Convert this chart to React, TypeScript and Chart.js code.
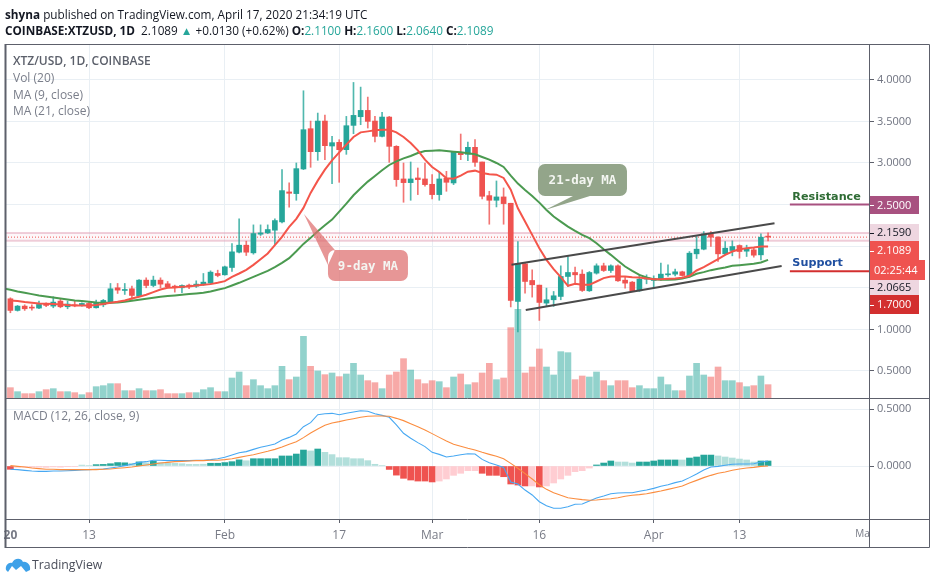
import React, { useEffect, useRef } from "react";
import { Chart, registerables } from "chart.js";

Chart.register(...registerables);

const openPrice = [
  1.368,1.228,1.28,1.268,1.256,1.304,1.28,1.34,1.272,1.296,
  1.296,1.312,1.26,1.296,1.328,1.50,1.468,1.488,1.40,1.592,
  1.528,1.592,1.548,1.52,1.50,1.528,1.52,1.536,1.556,1.672,
  1.656,1.744,1.928,2.012,1.92,2.144,2.16,2.192,2.292,2.652,
  2.632,2.928,3.412,3.136,3.504,3.204,3.248,3.16,3.452,3.556,
  3.632,3.504,3.32,3.552,3.20,2.808,2.764,2.82,2.808,2.744,
  2.62,2.816,2.76,3.128,3.104,3.188,3.012,2.608,2.552,2.592,
  2.516,1.336,1.788,1.588,1.532,1.316,1.356,1.396,1.636,1.684,
  1.664,1.464,1.676,1.764,1.708,1.764,1.592,1.568,1.464,1.604,
  1.588,1.604,1.656,1.664,1.692,1.644,1.908,1.964,2.148,2.108,
  1.908,1.948,2.008,1.94,1.956,1.896,2.11,
];
const highPrice = [
  1.38,1.288,1.296,1.296,1.34,1.32,1.392,1.368,1.34,1.34,
  1.32,1.328,1.352,1.36,1.552,1.552,1.552,1.52,1.60,1.62,
  1.64,1.62,1.576,1.532,1.536,1.544,1.584,1.672,1.704,1.712,
  1.76,2.032,2.328,2.06,2.256,2.256,2.256,2.328,2.92,2.76,
  3.0,3.868,3.504,3.60,3.576,3.32,3.28,3.56,3.968,3.912,
  3.792,3.56,3.608,3.56,3.208,3.0,3.012,2.94,3.0,2.86,
  2.888,2.90,3.128,3.348,3.252,3.28,3.012,2.66,2.784,2.70,
  2.516,2.056,1.796,1.716,1.532,1.496,1.456,1.764,1.876,1.748,
  1.716,1.696,1.788,1.796,1.776,1.776,1.628,1.576,1.656,1.656,
  1.644,1.796,1.776,1.724,1.70,1.936,2.116,2.176,2.176,2.116,
  2.056,2.064,2.016,2.012,1.976,2.148,2.16,
];
const lowPrice = [
  1.20,1.22,1.228,1.232,1.248,1.272,1.26,1.26,1.248,1.272,
  1.28,1.248,1.256,1.272,1.312,1.432,1.42,1.36,1.40,1.50,
  1.512,1.50,1.50,1.448,1.44,1.488,1.504,1.528,1.552,1.632,
  1.652,1.696,1.92,1.888,1.904,2.128,2.152,2.02,2.28,2.468,
  2.552,2.92,2.948,3.032,3.04,2.752,2.768,3.104,3.352,3.46,
  3.42,3.252,3.312,3.008,2.72,2.528,2.552,2.62,2.72,2.568,
  2.552,2.66,2.74,3.04,3.028,2.96,2.568,2.264,2.472,2.264,
  1.27,0.97,1.436,1.388,1.108,1.276,1.276,1.356,1.516,1.556,
  1.456,1.456,1.664,1.696,1.684,1.576,1.496,1.456,1.456,1.548,
  1.496,1.588,1.636,1.644,1.64,1.628,1.852,1.956,1.996,1.816,
  1.896,1.884,1.856,1.876,1.868,1.836,2.064,
];
const closePrice = [
  1.228,1.28,1.248,1.256,1.30,1.288,1.328,1.272,1.304,1.284,
  1.312,1.26,1.32,1.348,1.488,1.472,1.48,1.408,1.592,1.528,
  1.592,1.544,1.512,1.504,1.528,1.52,1.544,1.568,1.688,1.648,
  1.752,1.932,2.012,1.928,2.152,2.16,2.20,2.308,2.668,2.636,
  2.932,3.40,3.136,3.504,3.208,3.244,3.16,3.448,3.572,3.632,
  3.50,3.32,3.552,3.20,2.80,2.764,2.808,2.80,2.74,2.62,
  2.808,2.768,3.128,3.10,3.188,3.008,2.60,2.552,2.592,2.512,
  1.348,1.788,1.576,1.536,1.324,1.356,1.404,1.636,1.684,1.656,
  1.468,1.684,1.764,1.708,1.764,1.584,1.556,1.464,1.604,1.624,
  1.612,1.664,1.668,1.692,1.648,1.916,1.964,2.148,2.108,1.908,
  1.976,1.996,1.936,1.964,1.892,2.108,2.1089,
];
const volumeK = [
  31,19,13,13,19,25,28,19,19,16,
  10,16,34,37,43,43,22,22,28,22,
  22,25,13,13,13,16,16,25,31,19,
  19,60,78,37,55,37,28,37,95,55,
  63,185,95,81,70,75,64,72,104,69,
  52,46,28,69,78,118,84,55,43,52,
  49,31,63,72,40,46,75,104,55,60,
  211,266,75,93,147,93,69,139,136,55,
  66,63,78,52,37,52,52,31,37,28,
  28,63,40,22,22,66,104,69,63,93,
  52,52,46,34,37,66,40,
];
const ma9 = [
  1.348,1.34,1.328,1.32,1.312,1.308,1.304,1.30,1.292,1.288,
  1.288,1.288,1.292,1.304,1.32,1.332,1.348,1.372,1.392,1.416,
  1.448,1.48,1.50,1.504,1.512,1.516,1.528,1.536,1.544,1.56,
  1.58,1.632,1.672,1.716,1.776,1.844,1.912,2.012,2.112,2.232,
  2.328,2.46,2.64,2.788,2.92,3.032,3.128,3.22,3.312,3.368,
  3.38,3.392,3.40,3.40,3.368,3.312,3.24,3.152,3.04,2.952,
  2.892,2.816,2.812,2.848,2.896,2.908,2.88,2.864,2.86,2.82,
  2.68,2.456,2.296,2.136,1.976,1.836,1.724,1.628,1.524,1.548,
  1.536,1.536,1.576,1.616,1.636,1.636,1.636,1.628,1.624,1.612,
  1.604,1.604,1.608,1.612,1.62,1.644,1.708,1.748,1.796,1.844,
  1.896,1.936,1.964,1.976,1.984,1.996,1.996,
];
const ma21 = [
  1.476,1.456,1.44,1.424,1.408,1.396,1.384,1.372,1.36,1.348,
  1.34,1.332,1.324,1.32,1.32,1.324,1.332,1.344,1.356,1.368,
  1.38,1.392,1.40,1.408,1.416,1.424,1.432,1.44,1.456,1.476,
  1.496,1.528,1.56,1.596,1.632,1.668,1.704,1.748,1.80,1.856,
  1.94,2.028,2.10,2.18,2.252,2.32,2.416,2.512,2.612,2.696,
  2.776,2.844,2.912,2.976,3.02,3.056,3.084,3.12,3.144,3.148,
  3.152,3.144,3.136,3.128,3.116,3.104,3.072,3.04,3.0,2.952,
  2.848,2.752,2.676,2.604,2.524,2.436,2.356,2.296,2.236,2.184,
  2.136,2.096,2.036,1.964,1.896,1.824,1.756,1.704,1.656,1.624,
  1.604,1.596,1.596,1.60,1.612,1.632,1.668,1.688,1.712,1.728,
  1.744,1.764,1.772,1.78,1.788,1.804,1.836,
];
const macdHist = [
  -.029,-.012,-.01,-.012,-.01,-.012,-.008,-.01,-.006,-.004,
  .008,.004,.012,.014,.02,.03,.028,.024,.036,.028,
  .042,.03,.026,.024,.02,.014,.014,.016,.024,.024,
  .03,.038,.054,.046,.064,.064,.064,.064,.088,.088,
  .105,.14,.132,.149,.12,.10,.073,.073,.064,.064,
  .047,.015,.004,-.03,-.08,-.108,-.123,-.132,-.132,-.14,
  -.132,-.114,-.082,-.064,-.041,-.041,-.064,-.082,-.082,-.094,
  -.158,-.167,-.175,-.175,-.184,-.175,-.149,-.114,-.082,-.05,
  -.041,-.018,.009,.026,.044,.035,.035,.026,.035,.035,
  .044,.053,.053,.053,.053,.07,.079,.096,.096,.088,
  .079,.07,.061,.053,.035,.044,.044,
];
const macdLine = [
  -.029,-.032,-.038,-.044,-.047,-.047,-.044,-.044,-.041,-.038,
  -.035,-.032,-.029,-.026,-.018,-.009,.003,.015,.032,.038,
  .05,.05,.047,.047,.047,.047,.05,.05,.056,.064,
  .076,.096,.117,.126,.146,.164,.178,.193,.228,.251,
  .281,.345,.38,.45,.459,.462,.45,.462,.474,.485,
  .48,.459,.444,.427,.36,.287,.243,.205,.17,.12,
  .102,.079,.088,.099,.108,.105,.058,.029,.009,-.012,
  -.14,-.158,-.211,-.254,-.313,-.348,-.371,-.371,-.357,-.336,
  -.333,-.307,-.281,-.263,-.243,-.237,-.234,-.234,-.222,-.211,
  -.196,-.178,-.164,-.146,-.132,-.102,-.07,-.035,-.009,-.003,
  .006,.015,.018,.018,.02,.035,.044,
];
const macdSignal = [
  .003,-.003,-.009,-.018,-.023,-.029,-.029,-.032,-.032,-.032,
  -.032,-.032,-.032,-.029,-.026,-.02,-.015,-.009,0,.009,
  .018,.026,.032,.038,.041,.044,.047,.047,.05,.05,
  .056,.064,.076,.088,.099,.114,.129,.146,.167,.19,
  .213,.249,.289,.325,.357,.377,.389,.404,.415,.427,
  .436,.439,.439,.436,.418,.398,.371,.345,.316,.284,
  .251,.219,.19,.173,.155,.14,.12,.102,.085,.064,
  .023,-.02,-.067,-.114,-.164,-.205,-.234,-.257,-.278,-.287,
  -.295,-.301,-.298,-.292,-.287,-.278,-.266,-.257,-.251,-.243,
  -.231,-.219,-.205,-.19,-.175,-.149,-.126,-.102,-.082,-.064,
  -.053,-.038,-.026,-.018,-.012,-.003,0,
];
const histDarkRanges = [[0,0],[12,16],[18,18],[20,20],[28,32],[34,41],[43,43],[53,59],[66,72],[74,74],[82,84],[88,93],[95,98],[105,106]];

const timeTickDays = [0, 11, 30, 46, 59, 74, 90, 102, 119.2];
const timeTickLabels = ["20", "13", "Feb", "17", "Mar", "16", "Apr", "13", "Ma"];
const priceTicks = [4, 3.5, 3, 2.5, 2, 1.5, 1, 0.5];
const priceTicksHidden = [2.5, 2, 1.5];
const macdTicks = [0.5, 0];

const channelUpper = [{ x: 70.1, y: 1.778 }, { x: 106.9, y: 2.275 }];
const channelLower = [{ x: 72.1, y: 1.233 }, { x: 107.9, y: 1.762 }];
const resistanceLevel = 2.5;
const supportLevel = 1.7;
const sessionHigh = 2.159;
const sessionLow = 2.0665;
const lastClose = 2.1089;

const DAY_MIN = -0.755;
const DAY_MAX = 120.12;
const days = openPrice.map((_, i) => i);
const FONT = '"Open Sans", sans-serif';
const UP = "#26a69a";
const DOWN = "#ef5350";
const GRID = "#e9eff4";
const FRAME = "#5d606b";

const isUp = (i: number) => closePrice[i] >= openPrice[i];
const isDark = (i: number) => histDarkRanges.some(([a, b]) => i >= a && i <= b);
const lineData = (arr: number[]) => days.map((d) => ({ x: d, y: arr[d] }));
const hLine = (from: number, to: number, y: number) => [{ x: from, y }, { x: to, y }];

const axisTags = [
  { text: "2.5000", top: 196, h: 18, w: 49, bg: "#a85180", fg: "#ffffff", dash: true },
  { text: "2.1590", top: 224, h: 17, w: 49, bg: "#eed6e0", fg: "#131722", dash: true },
  { text: "2.1089", top: 241, h: 19, w: 49, bg: "#ef5350", fg: "#ffffff", dash: true },
  { text: "02:25:44", top: 260, h: 20, w: 55, bg: "#ef5350", fg: "#ffffff", dash: false },
  { text: "2.0665", top: 280, h: 15, w: 49, bg: "#eed6e0", fg: "#131722", dash: true },
  { text: "1.7000", top: 295, h: 19, w: 49, bg: "#d32f2f", fg: "#ffffff", dash: true },
];

const callouts = [
  {
    text: "9-day MA", fill: "rgba(222,110,110,0.72)",
    box: [44.43, 55.62, 1.954, 1.582],
    tail: [[45.4, 1.954], [41.07, 2.387], [44.43, 1.774]],
  },
  {
    text: "21-day MA", fill: "#93a58a",
    box: [73.81, 86.26, 2.988, 2.603],
    tail: [[78.7, 2.603], [74.8, 2.435], [81.08, 2.603]],
  },
];
const levelLabels = [
  { text: "Resistance", day: 109.4, price: 2.5, dy: -8, size: 11.2, color: "#2e6b34" },
  { text: "Support", day: 109.4, price: 1.7, dy: -8, size: 11.2, color: "#1f4fa0" },
];

const overlayPlugin = {
  id: "overlay",
  afterDatasetsDraw(chart: any) {
    const { ctx, scales } = chart;
    const x = scales.x, y = scales.y;
    ctx.save();
    for (const c of callouts) {
      const [d0, d1, p0, p1] = c.box;
      const l = x.getPixelForValue(d0), r = x.getPixelForValue(d1);
      const t = y.getPixelForValue(p0), b = y.getPixelForValue(p1);
      ctx.fillStyle = c.fill;
      ctx.beginPath();
      ctx.roundRect(l, t, r - l, b - t, 7);
      c.tail.forEach(([d, p]: number[], i: number) => {
        const px = x.getPixelForValue(d), py = y.getPixelForValue(p);
        if (i === 0) ctx.moveTo(px, py); else ctx.lineTo(px, py);
      });
      ctx.closePath();
      ctx.fill();
      ctx.fillStyle = "#f4f6f2";
      ctx.font = 'bold 12.5px "DejaVu Sans Mono", monospace';
      ctx.textAlign = "center";
      ctx.textBaseline = "middle";
      ctx.fillText(c.text, (l + r) / 2, (t + b) / 2 + 1);
    }
    for (const lab of levelLabels) {
      ctx.fillStyle = lab.color;
      ctx.font = `bold ${lab.size}px "DejaVu Sans", sans-serif`;
      ctx.textAlign = "left";
      ctx.textBaseline = "middle";
      ctx.fillText(lab.text, x.getPixelForValue(lab.day), y.getPixelForValue(lab.price) + lab.dy);
    }
    ctx.restore();
  },
  afterDraw(chart: any) {
    const { ctx } = chart;
    ctx.save();
    for (const t of axisTags) {
      ctx.fillStyle = t.bg;
      ctx.fillRect(870, t.top, t.w, t.h);
      if (t.dash) {
        ctx.fillStyle = t.fg;
        ctx.fillRect(870, Math.round(t.top + t.h / 2), 4, 1);
      }
      ctx.fillStyle = t.fg;
      ctx.font = `11px ${FONT}`;
      ctx.textAlign = "left";
      ctx.textBaseline = "middle";
      ctx.fillText(t.text, t.dash ? 877 : 874, t.top + t.h / 2 + 0.5);
    }
    ctx.strokeStyle = FRAME;
    ctx.lineWidth = 1;
    ctx.beginPath();
    ctx.rect(5.5, 44.5, 924, 503);
    ctx.moveTo(869.5, 44); ctx.lineTo(869.5, 548);
    ctx.moveTo(5, 398.5); ctx.lineTo(930, 398.5);
    ctx.moveTo(5, 519.5); ctx.lineTo(930, 519.5);
    ctx.stroke();
    ctx.lineWidth = 2;
    ctx.beginPath();
    ctx.moveTo(5.5, 44); ctx.lineTo(5.5, 548);
    ctx.stroke();
    ctx.restore();
  },
};

const headStyle: React.CSSProperties = {
  position: "absolute", whiteSpace: "nowrap", fontFamily: FONT, fontSize: 11.75, lineHeight: "16px", color: "#131722",
};
const legendStyle: React.CSSProperties = { ...headStyle, fontSize: 12, color: "#7a7e8a", left: 13 };
const teal = { color: "#26a69a" };

export default function App() {
  const ref = useRef<HTMLCanvasElement>(null);
  useEffect(() => {
    const chart = new Chart(ref.current as HTMLCanvasElement, {
      type: "bar",
      plugins: [overlayPlugin],
      data: {
        datasets: [
          {
            label: "Vol", yAxisID: "yVol", order: 100, grouped: false, barThickness: 6,
            data: days.map((d) => ({ x: d, y: volumeK[d] })),
            backgroundColor: days.map((d) => (isUp(d) ? "rgba(38,166,154,0.5)" : "rgba(239,83,80,0.5)")),
          },
          {
            label: "Low band", type: "line", yAxisID: "y", order: 91, pointRadius: 0, borderWidth: 2,
            borderColor: "rgba(226,160,182,0.5)", backgroundColor: "rgba(240,190,205,0.12)", fill: "+1",
            data: hLine(DAY_MIN, DAY_MAX, sessionHigh),
          },
          {
            label: "High band", type: "line", yAxisID: "y", order: 90, pointRadius: 0, borderWidth: 2,
            borderColor: "rgba(226,160,182,0.5)", data: hLine(DAY_MIN, DAY_MAX, sessionLow),
          },
          {
            label: "Last", type: "line", yAxisID: "y", order: 89, pointRadius: 0, borderWidth: 1,
            borderColor: DOWN, borderDash: [1, 2], data: hLine(DAY_MIN, DAY_MAX, lastClose),
          },
          {
            label: "Histogram", yAxisID: "ym", order: 80, grouped: false, barThickness: 6,
            data: days.map((d) => ({ x: d, y: macdHist[d] })),
            backgroundColor: days.map((d) =>
              macdHist[d] >= 0 ? (isDark(d) ? "#26a69a" : "#b2dfdb") : isDark(d) ? "#ef5350" : "#ffcdd2"
            ),
          },
          {
            label: "Wick", yAxisID: "y", order: 70, grouped: false, barThickness: 1,
            data: days.map((d) => ({ x: d, y: [lowPrice[d], highPrice[d]] })),
            backgroundColor: days.map((d) => (isUp(d) ? "rgba(38,166,154,0.8)" : "rgba(239,83,80,0.8)")),
          },
          {
            label: "Body", yAxisID: "y", order: 69, grouped: false, barThickness: 5, minBarLength: 1,
            data: days.map((d) => ({ x: d, y: [Math.min(openPrice[d], closePrice[d]), Math.max(openPrice[d], closePrice[d])] })),
            backgroundColor: days.map((d) => (isUp(d) ? UP : DOWN)),
          },
          {
            label: "MA 21", type: "line", yAxisID: "y", order: 50, pointRadius: 0, borderWidth: 2,
            borderColor: "#4b9a50", data: [{ x: -0.755, y: 1.49 }, ...lineData(ma21)],
          },
          {
            label: "MA 9", type: "line", yAxisID: "y", order: 49, pointRadius: 0, borderWidth: 2,
            borderColor: "#f4554a", data: lineData(ma9),
          },
          {
            label: "MACD", type: "line", yAxisID: "ym", order: 48, pointRadius: 0, borderWidth: 1.1,
            borderColor: "#47a8f2", data: lineData(macdLine),
          },
          {
            label: "Signal", type: "line", yAxisID: "ym", order: 47, pointRadius: 0, borderWidth: 1.1,
            borderColor: "#fb8d3f", data: lineData(macdSignal),
          },
          {
            label: "Channel top", type: "line", yAxisID: "y", order: 40, pointRadius: 0, borderWidth: 2,
            borderColor: "#4a4a4a", data: channelUpper,
          },
          {
            label: "Channel bottom", type: "line", yAxisID: "y", order: 39, pointRadius: 0, borderWidth: 2,
            borderColor: "#4a4a4a", data: channelLower,
          },
          {
            label: "Resistance", type: "line", yAxisID: "y", order: 38, pointRadius: 0, borderWidth: 2,
            borderColor: "#a85180", data: hLine(109.05, DAY_MAX, resistanceLevel),
          },
          {
            label: "Support", type: "line", yAxisID: "y", order: 37, pointRadius: 0, borderWidth: 2,
            borderColor: "#d32f2f", data: hLine(109.05, DAY_MAX, supportLevel),
          },
        ] as any,
      },
      options: {
        responsive: false,
        animation: false,
        parsing: undefined,
        layout: { padding: { left: 5, top: 44, right: 9, bottom: 33 } },
        plugins: { legend: { display: false }, tooltip: { enabled: false }, title: { display: false } },
        scales: {
          x: {
            type: "linear", min: DAY_MIN, max: DAY_MAX, offset: false, bounds: "data",
            afterBuildTicks: (s: any) => { s.ticks = timeTickDays.map((value) => ({ value })); },
            afterFit: (s: any) => { s.height = 28; s.paddingLeft = 0; s.paddingRight = 0; },
            border: { display: false },
            grid: {
              offset: false,
              color: (c: any) => (c.tick && Number.isInteger(c.tick.value) && c.tick.value !== 0 ? GRID : "rgba(0,0,0,0)"),
              tickColor: (c: any) => (c.tick && Number.isInteger(c.tick.value) && c.tick.value !== 0 ? FRAME : "rgba(0,0,0,0)"),
              tickLength: 4,
            },
            ticks: {
              autoSkip: false, maxRotation: 0, minRotation: 0, padding: 5, color: "#787b86",
              font: (c: any) => ({
                family: FONT,
                size: c.index === timeTickDays.length - 1 ? 10 : 12,
                weight: c.index === 0 ? "bold" : "normal",
              }),
              callback: (_: any, i: number) => timeTickLabels[i],
            },
          },
          y: {
            type: "linear", position: "right", stack: "right", stackWeight: 354, min: 0.1755, max: 4.43, bounds: "data",
            afterBuildTicks: (s: any) => { s.ticks = priceTicks.map((value) => ({ value })); },
            afterFit: (s: any) => { s.width = 61; },
            border: { display: false },
            grid: { color: GRID, tickColor: FRAME, tickLength: 5 },
            ticks: {
              padding: 3, color: "#6f7380", font: { family: FONT, size: 11 }, autoSkip: false,
              callback: (v: any) => (priceTicksHidden.includes(Number(v)) ? "" : Number(v).toFixed(4)),
            },
          },
          ym: {
            type: "linear", position: "right", stack: "right", stackWeight: 121, min: -0.4649, max: 0.5965, bounds: "data",
            afterBuildTicks: (s: any) => { s.ticks = macdTicks.map((value) => ({ value })); },
            afterFit: (s: any) => { s.width = 61; },
            border: { display: false },
            grid: { color: GRID, tickColor: FRAME, tickLength: 5 },
            ticks: {
              padding: 3, color: "#6f7380", font: { family: FONT, size: 11 }, autoSkip: false,
              callback: (v: any) => Number(v).toFixed(4),
            },
          },
          yVol: { type: "linear", display: false, min: -363, max: 1062, bounds: "data" },
        },
      } as any,
    });
    return () => chart.destroy();
  }, []);

  return (
    <div style={{ position: "absolute", left: 0, top: 0, width: 939, height: 580, overflow: "hidden", background: "#fff" }}>
      <canvas ref={ref} width={939} height={580} style={{ position: "absolute", left: 0, top: 0, display: "block" }} />
      <div style={{ ...headStyle, left: 5, top: 6 }}>
        <b>shyna</b> published on TradingView.com, April 17, 2020 21:34:19 UTC
      </div>
      <div style={{ ...headStyle, left: 5, top: 22 }}>
        <b>COINBASE:XTZUSD, 1D</b>&nbsp; 2.1089 <span style={teal}>▲</span> +0.0130 (+0.62%) <b>O:</b>
        <span style={teal}>2.1100</span> <b>H:</b><span style={teal}>2.1600</span> <b>L:</b>
        <span style={teal}>2.0640</span> <b>C:</b><span style={teal}>2.1089</span>
      </div>
      <div style={{ ...legendStyle, top: 53, fontWeight: 600, color: "#5c606b" }}>XTZ/USD, 1D, COINBASE</div>
      <div style={{ ...legendStyle, top: 70 }}>Vol (20)</div>
      <div style={{ ...legendStyle, top: 87 }}>MA (9, close)</div>
      <div style={{ ...legendStyle, top: 103 }}>MA (21, close)</div>
      <div style={{ ...legendStyle, top: 408 }}>MACD (12, 26, close, 9)</div>
      <svg width="26" height="16" viewBox="0 0 26 16" style={{ position: "absolute", left: 5, top: 557 }}>
        <path d="M1 13 C0 8 4 5 7 6 C9 1 16 0 18 5 C22 4 26 8 25 13 L21 15 L16 9 L11 13 L7 9 L3 15 Z" fill="#3ea1e8" />
      </svg>
      <div style={{ ...headStyle, left: 32, top: 557, fontSize: 12.3, color: "#4a4e5a" }}>TradingView</div>
    </div>
  );
}
